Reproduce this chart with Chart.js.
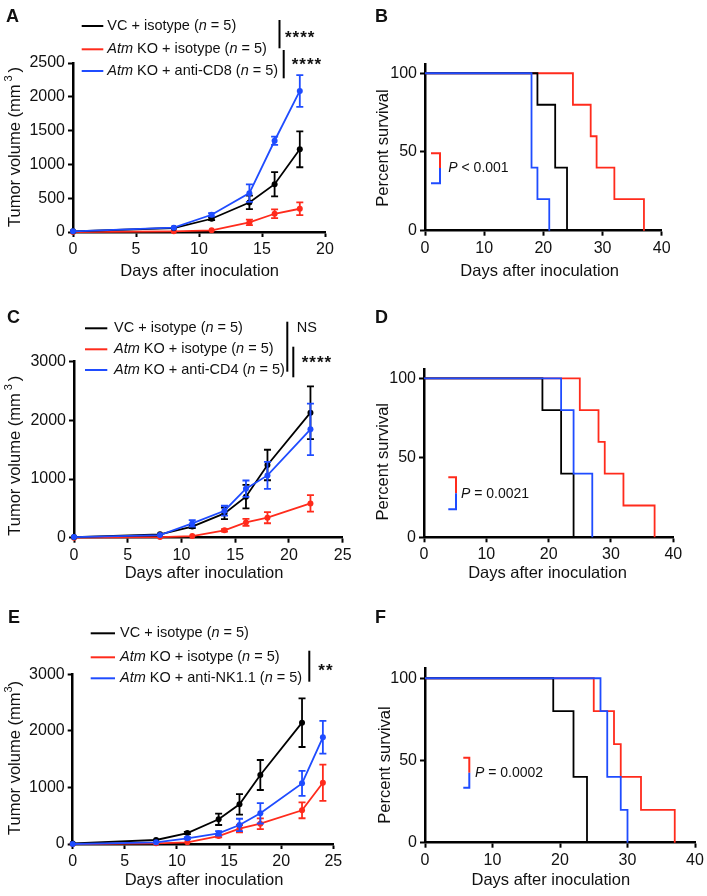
<!DOCTYPE html>
<html>
<head>
<meta charset="utf-8">
<script src="https://cdn.jsdelivr.net/npm/chart.js@4.4.1/dist/chart.umd.min.js"></script>
<style>
  body { margin: 0; background: #fff; width: 707px; height: 896px; position: relative; overflow: hidden; }
  canvas { position: absolute; }
</style>
</head>
<body>
<canvas id="chartA"></canvas>
<canvas id="chartB"></canvas>
<canvas id="chartC"></canvas>
<canvas id="chartD"></canvas>
<canvas id="chartE"></canvas>
<canvas id="chartF"></canvas>
<script>
// Fonts & colours
const FONT = '"Liberation Sans", Arial, Helvetica, sans-serif';
const BLACK = '#000000';
const RED = '#ff2b1c';
const BLUE = '#1f4cff';

// Text
const xTitleText = 'Days after inoculation';
const volTitle = ['Tumor volume (mm', '3', ')'];
const survTitle = 'Percent survival';
const namesA = ['VC + isotype (n = 5)', 'Atm KO + isotype (n = 5)', 'Atm KO + anti-CD8 (n = 5)'];
const namesC = ['VC + isotype (n = 5)', 'Atm KO + isotype (n = 5)', 'Atm KO + anti-CD4 (n = 5)'];
const namesE = ['VC + isotype (n = 5)', 'Atm KO + isotype (n = 5)', 'Atm KO + anti-NK1.1 (n = 5)'];

// Tick labels
const tickVolA = [0, 500, 1000, 1500, 2000, 2500];
const tickVol = [0, 1000, 2000, 3000];
const tickSurv = [0, 50, 100];
const tickDays20 = [0, 5, 10, 15, 20];
const tickDays25 = [0, 5, 10, 15, 20, 25];
const tickDays40 = [0, 10, 20, 30, 40];

// Panel A: tumour volume, anti-CD8
const daysA = [0, 8, 11, 14, 16, 18];
const vcA = [10, 59, 196, 437, 707, 1223];
const vcErrA = [0, 0, 20, 100, 180, 265];
const koA = [0, 10, 25, 142, 270, 344];
const koErrA = [0, 0, 0, 40, 65, 95];
const cd8A = [10, 64, 255, 575, 1350, 2087];
const cd8ErrA = [0, 0, 25, 130, 60, 235];

// Panel B: survival, anti-CD8
const vcTimesB = [0, 19, 22, 24];
const vcSurvB = [100, 80, 40, 0];
const koTimesB = [0, 25, 28, 29, 32, 37];
const koSurvB = [100, 80, 60, 40, 20, 0];
const cd8TimesB = [0, 18, 19, 21];
const cd8SurvB = [100, 40, 20, 0];

// Panel C: tumour volume, anti-CD4
const daysC = [0, 8, 11, 14, 16, 18, 22];
const vcC = [10, 57, 190, 415, 700, 1239, 2131];
const vcErrC = [0, 0, 25, 100, 200, 260, 450];
const koC = [0, 11, 28, 125, 261, 341, 585];
const koErrC = [0, 0, 0, 20, 60, 95, 140];
const cd4C = [10, 45, 244, 460, 835, 1062, 1847];
const cd4ErrC = [0, 0, 55, 85, 140, 230, 440];

// Panel D: survival, anti-CD4
const vcTimesD = [0, 19, 22, 24];
const vcSurvD = [100, 80, 40, 0];
const koTimesD = [0, 25, 28, 29, 32, 37];
const koSurvD = [100, 80, 60, 40, 20, 0];
const cd4TimesD = [0, 22, 24, 27];
const cd4SurvD = [100, 80, 40, 0];

// Panel E: tumour volume, anti-NK1.1
const daysVcE = [0, 8, 11, 14, 16, 18, 22];
const daysE = [0, 8, 11, 14, 16, 18, 22, 24];
const vcE = [10, 71, 194, 436, 701, 1220, 2145];
const vcErrE = [0, 0, 20, 100, 180, 265, 430];
const koE = [0, 12, 30, 141, 271, 359, 595, 1084];
const koErrE = [0, 0, 0, 25, 65, 95, 140, 320];
const nkE = [0, 30, 100, 189, 336, 542, 1072, 1886];
const nkErrE = [0, 0, 20, 40, 110, 180, 220, 290];

// Panel F: survival, anti-NK1.1
const vcTimesF = [0, 19, 22, 24];
const vcSurvF = [100, 80, 40, 0];
const koTimesF = [0, 25, 28, 29, 32, 37];
const koSurvF = [100, 80, 60, 40, 20, 0];
const nkTimesF = [0, 26, 27, 29, 30];
const nkSurvF = [100, 80, 40, 20, 0];

// Layout of each panel (page pixels)
const panels = {
  chartA: {
    box: [0, 0, 365, 290], plot: { l: 73, t: 63, r: 325, b: 232 },
    xMax: 20, yMax: 2500, xTicks: tickDays20, yTicks: tickVolA,
    letter: ['A', 6, 21.7], xTitle: [199.7, 271.7], yTitle: { x: 15, y: 147, gap: 3, vol: true },
    legend: { s1: 81.7, s2: 103.3, tx: 107.3, rows: [26, 49.3, 71], names: namesA },
    sig: [
      { x: 279.5, y1: 20, y2: 48.3, label: '****', lx: 285, ly: 33 },
      { x: 283.7, y1: 50, y2: 78.3, label: '****', lx: 291.7, ly: 60.7 }
    ]
  },
  chartB: {
    box: [350, 0, 357, 290], plot: { l: 425, t: 63.8, r: 661.7, b: 230.7 },
    xMax: 40, yMax: 106, xTicks: tickDays40, yTicks: tickSurv,
    letter: ['B', 375, 21.7], xTitle: [539.7, 271.7], yTitle: { x: 383, y: 148 },
    p: { x1: 431, x2: 440, y1: 153.3, ym: 168, y2: 183.3, tx: 448.3, ty: 168.3, text: 'P < 0.001' }
  },
  chartC: {
    box: [0, 290, 365, 300], plot: { l: 74, t: 361.7, r: 342.7, b: 537.7 },
    xMax: 25, yMax: 3000, xTicks: tickDays25, yTicks: tickVol,
    letter: ['C', 7, 323.3], xTitle: [204, 573.3], yTitle: { x: 15, y: 455.7, gap: 3, vol: true },
    legend: { s1: 85, s2: 107.3, tx: 114, rows: [328.3, 349.3, 370], names: namesC },
    sig: [
      { x: 287.3, y1: 321.7, y2: 371.7, label: 'NS', lx: 296.7, ly: 328.3 },
      { x: 293.3, y1: 346.7, y2: 377.3, label: '****', lx: 301.7, ly: 358.3 }
    ]
  },
  chartD: {
    box: [350, 290, 357, 300], plot: { l: 424, t: 368.8, r: 673.3, b: 537.3 },
    xMax: 40, yMax: 106, xTicks: tickDays40, yTicks: tickSurv,
    letter: ['D', 375, 323.3], xTitle: [547.5, 573.3], yTitle: { x: 383, y: 461.7 },
    p: { x1: 448.3, x2: 456, y1: 477.3, ym: 493.3, y2: 509.3, tx: 461, ty: 494, text: 'P = 0.0021' }
  },
  chartE: {
    box: [0, 590, 365, 306], plot: { l: 72.7, t: 674.3, r: 333.3, b: 844 },
    xMax: 25, yMax: 3000, xTicks: tickDays25, yTicks: tickVol,
    letter: ['E', 8, 623.3], xTitle: [204, 880], yTitle: { x: 15, y: 758, gap: 0, vol: true },
    legend: { s1: 90.7, s2: 115, tx: 120, rows: [633.3, 657.3, 678.3], names: namesE },
    sig: [
      { x: 309.3, y1: 650.7, y2: 681.7, label: '**', lx: 318.3, ly: 666 }
    ]
  },
  chartF: {
    box: [350, 590, 357, 306], plot: { l: 425, t: 668.4, r: 695, b: 842.7 },
    xMax: 40, yMax: 106, xTicks: tickDays40, yTicks: tickSurv,
    letter: ['F', 375, 623.3], xTitle: [550.8, 880], yTitle: { x: 385, y: 765 },
    p: { x1: 463.3, x2: 469.3, y1: 757.7, ym: 772.7, y2: 787.7, tx: 475, ty: 772.7, text: 'P = 0.0002' }
  }
};

// Datasets
function growthSet(label, days, vals, errs, color) {
  return {
    label: label,
    data: days.map((d, i) => ({ x: d, y: vals[i] })),
    errors: errs,
    borderColor: color,
    backgroundColor: color,
    pointBackgroundColor: color,
    borderWidth: 1.8,
    pointRadius: 3,
    pointBorderWidth: 0,
    clip: false
  };
}

function survSet(label, times, surv, color) {
  return {
    label: label,
    data: times.map((t, i) => ({ x: t, y: surv[i] })),
    borderColor: color,
    backgroundColor: color,
    borderWidth: 1.8,
    pointRadius: 0,
    stepped: 'before',
    clip: false
  };
}

// Error bars drawn right after each dataset so stacking order matches
const errorBars = {
  id: 'errorBars',
  afterDatasetDraw(chart, args) {
    const ds = chart.data.datasets[args.index];
    if (!ds.errors) return;
    const ctx = chart.ctx;
    const xs = chart.scales.x, ys = chart.scales.y;
    ctx.save();
    ctx.strokeStyle = ds.borderColor;
    ctx.lineWidth = 1.8;
    ds.data.forEach((pt, i) => {
      const e = ds.errors[i];
      if (!e) return;
      const x = xs.getPixelForValue(pt.x);
      const yTop = ys.getPixelForValue(pt.y + e);
      const yBot = ys.getPixelForValue(Math.max(pt.y - e, 0));
      ctx.beginPath();
      ctx.moveTo(x, yTop); ctx.lineTo(x, yBot);
      ctx.moveTo(x - 3.5, yTop); ctx.lineTo(x + 3.5, yTop);
      ctx.moveTo(x - 3.5, yBot); ctx.lineTo(x + 3.5, yBot);
      ctx.stroke();
    });
    ctx.restore();
  }
};

// Italic for gene name, n and P
function drawRich(ctx, text, x, y, size) {
  text.split(/(Atm|\bn\b|\bP\b)/).filter(s => s).forEach(s => {
    const it = s === 'Atm' || s === 'n' || s === 'P';
    ctx.font = (it ? 'italic ' : '') + size + 'px ' + FONT;
    ctx.fillText(s, x, y);
    x += ctx.measureText(s).width;
  });
}

function drawYTitle(ctx, t) {
  ctx.save();
  ctx.translate(t.x, t.y);
  ctx.rotate(-Math.PI / 2);
  ctx.textAlign = 'left';
  ctx.textBaseline = 'middle';
  const big = '16.5px ' + FONT, small = '11px ' + FONT;
  const parts = t.vol
    ? [[volTitle[0], big, 0], [volTitle[1], small, -6], [volTitle[2], big, 0]]
    : [[survTitle, big, 0]];
  const gap = t.gap || 0;
  let total = 0;
  const ws = parts.map(([s, f]) => { ctx.font = f; const w = ctx.measureText(s).width; total += w; return w; });
  total += (parts.length - 1) * gap;
  let x = -total / 2;
  parts.forEach(([s, f, dy], i) => { ctx.font = f; ctx.fillText(s, x, dy); x += ws[i] + gap; });
  ctx.restore();
}

const colorsByRow = [BLACK, RED, BLUE];

// Letters, titles, legends and statistics
const decor = {
  id: 'decor',
  afterDraw(chart) {
    const p = panels[chart.canvas.id];
    const ctx = chart.ctx;
    ctx.save();
    ctx.translate(-p.box[0], -p.box[1]);
    ctx.fillStyle = '#111';

    // panel letter
    ctx.font = 'bold 18px ' + FONT;
    ctx.textAlign = 'left';
    ctx.textBaseline = 'alphabetic';
    ctx.fillText(p.letter[0], p.letter[1], p.letter[2]);

    // axis titles
    ctx.font = '16.5px ' + FONT;
    ctx.textAlign = 'center';
    ctx.textBaseline = 'middle';
    ctx.fillText(xTitleText, p.xTitle[0], p.xTitle[1]);
    drawYTitle(ctx, p.yTitle);

    ctx.textAlign = 'left';
    ctx.textBaseline = 'middle';

    // legend
    if (p.legend) {
      const lg = p.legend;
      lg.rows.forEach((y, i) => {
        ctx.strokeStyle = colorsByRow[i];
        ctx.lineWidth = 2;
        ctx.beginPath(); ctx.moveTo(lg.s1, y); ctx.lineTo(lg.s2, y); ctx.stroke();
        ctx.fillStyle = '#111';
        drawRich(ctx, lg.names[i], lg.tx, y, 14.5);
      });
    }

    // significance bars
    (p.sig || []).forEach(s => {
      ctx.strokeStyle = '#000';
      ctx.lineWidth = 2;
      ctx.beginPath(); ctx.moveTo(s.x, s.y1); ctx.lineTo(s.x, s.y2); ctx.stroke();
      ctx.fillStyle = '#111';
      if (s.label.includes('*')) {
        ctx.save();
        ctx.font = 'bold 17px ' + FONT;
        ctx.letterSpacing = '1px';
        ctx.textBaseline = 'alphabetic';
        ctx.fillText(s.label, s.lx, s.ly + 9.7);
        ctx.restore();
      } else {
        ctx.font = '14.5px ' + FONT;
        ctx.fillText(s.label, s.lx, s.ly);
      }
    });

    // log-rank bracket
    if (p.p) {
      const b = p.p;
      ctx.lineWidth = 2;
      ctx.strokeStyle = RED;
      ctx.beginPath(); ctx.moveTo(b.x1, b.y1); ctx.lineTo(b.x2, b.y1); ctx.lineTo(b.x2, b.ym); ctx.stroke();
      ctx.strokeStyle = BLUE;
      ctx.beginPath(); ctx.moveTo(b.x2, b.ym); ctx.lineTo(b.x2, b.y2); ctx.lineTo(b.x1, b.y2); ctx.stroke();
      ctx.fillStyle = '#111';
      drawRich(ctx, b.text, b.tx, b.ty, 14);
    }
    ctx.restore();
  }
};

function axisOpts(ticksArr, max, fit) {
  return {
    type: 'linear',
    min: 0,
    max: max,
    border: { display: true, color: '#000', width: 2.5 },
    grid: { drawOnChartArea: false, drawTicks: true, tickLength: 5, tickWidth: 2, tickColor: '#000' },
    ticks: {
      color: '#111',
      font: { family: FONT, size: 16 },
      padding: 3,
      maxRotation: 0,
      autoSkip: false,
      callback: v => String(v)
    },
    afterBuildTicks: scale => { scale.ticks = ticksArr.map(v => ({ value: v })); },
    afterFit: fit
  };
}

function makeChart(id, datasets) {
  const p = panels[id];
  const [bx, by, bw, bh] = p.box;
  const cv = document.getElementById(id);
  cv.width = bw;
  cv.height = bh;
  cv.style.left = bx + 'px';
  cv.style.top = by + 'px';
  return new Chart(cv, {
    type: 'line',
    data: { datasets: datasets },
    options: {
      responsive: false,
      animation: false,
      events: [],
      layout: { padding: { left: 0, top: p.plot.t - by, right: bx + bw - p.plot.r, bottom: 0 } },
      plugins: { legend: { display: false }, tooltip: { enabled: false } },
      scales: {
        x: axisOpts(p.xTicks, p.xMax, s => { s.height = by + bh - p.plot.b; }),
        y: axisOpts(p.yTicks, p.yMax, s => { s.width = p.plot.l - bx; })
      }
    },
    plugins: [errorBars, decor]
  });
}

// first dataset is drawn on top
makeChart('chartA', [
  growthSet(namesA[2], daysA, cd8A, cd8ErrA, BLUE),
  growthSet(namesA[0], daysA, vcA, vcErrA, BLACK),
  growthSet(namesA[1], daysA, koA, koErrA, RED)
]);
makeChart('chartB', [
  survSet(namesA[2], cd8TimesB, cd8SurvB, BLUE),
  survSet(namesA[0], vcTimesB, vcSurvB, BLACK),
  survSet(namesA[1], koTimesB, koSurvB, RED)
]);
makeChart('chartC', [
  growthSet(namesC[2], daysC, cd4C, cd4ErrC, BLUE),
  growthSet(namesC[0], daysC, vcC, vcErrC, BLACK),
  growthSet(namesC[1], daysC, koC, koErrC, RED)
]);
makeChart('chartD', [
  survSet(namesC[2], cd4TimesD, cd4SurvD, BLUE),
  survSet(namesC[0], vcTimesD, vcSurvD, BLACK),
  survSet(namesC[1], koTimesD, koSurvD, RED)
]);
makeChart('chartE', [
  growthSet(namesE[2], daysE, nkE, nkErrE, BLUE),
  growthSet(namesE[0], daysVcE, vcE, vcErrE, BLACK),
  growthSet(namesE[1], daysE, koE, koErrE, RED)
]);
makeChart('chartF', [
  survSet(namesE[2], nkTimesF, nkSurvF, BLUE),
  survSet(namesE[0], vcTimesF, vcSurvF, BLACK),
  survSet(namesE[1], koTimesF, koSurvF, RED)
]);
</script>
</body>
</html>
